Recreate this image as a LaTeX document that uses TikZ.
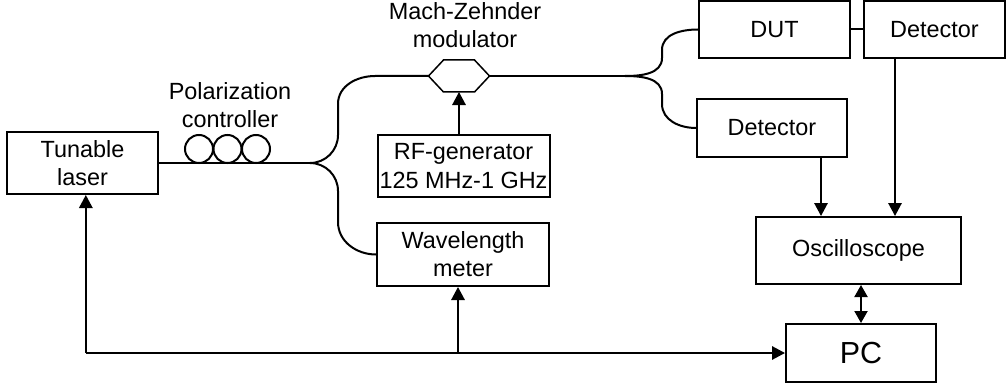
\documentclass[tikz,border=0pt]{standalone}
\usepackage{fontspec}
\setmainfont{Liberation Sans}
\usetikzlibrary{arrows.meta,positioning,calc}

\begin{document}
\begin{tikzpicture}[
    x=0.3mm, y=-0.3mm,
    font=\fontsize{20}{24}\selectfont,
    line width=0.6mm,
    box/.style={draw, rectangle, inner sep=0pt, align=center, line width=0.6mm},
    arr/.style={-{Triangle[length=3.9mm,width=4mm]}},
    darr/.style={{Triangle[length=3.6mm,width=3.9mm]}-{Triangle[length=3.6mm,width=3.9mm]}}
]
\useasboundingbox (0,0) rectangle (1006,390);

\node[box, minimum width=45.3mm, minimum height=18.6mm] (laser) at (82.5,163) {Tunable\\laser};
\node[box, minimum width=51.6mm, minimum height=18.6mm] (rf) at (463.5,166) {RF-generator\\125 MHz-1 GHz};
\node[box, minimum width=51.6mm, minimum height=18.9mm] (wlm) at (463,254.5) {Wavelength\\meter};
\node[box, minimum width=45.3mm, minimum height=17.1mm] (dut) at (774.5,29.5) {DUT};
\node[box, minimum width=42.3mm, minimum height=17.1mm] (detA) at (934.5,29.5) {Detector};
\node[box, minimum width=45mm, minimum height=17.4mm] (detB) at (772,128) {Detector};
\node[box, minimum width=61.5mm, minimum height=20.1mm] (osc) at (858.5,250.5) {Oscilloscope};
\node[box, minimum width=45mm, minimum height=17.4mm, font=\fontsize{26}{30}\selectfont] (pc) at (861,353) {PC};

\node[align=center] (pclabel) at (230,105.5) {Polarization\\controller};
\node[align=center] (mzlabel) at (465,25.5) {Mach-Zehnder\\modulator};

\coordinate (mz) at (459,76);
\draw[line width=0.45mm] (mz) ++(-30.5,0) coordinate (mzW) -- ++(15,-16) -- ++(31,0) -- ++(15,16) coordinate (mzE)
  -- ++(-15,16) -- ++(-31,0) -- cycle;
\coordinate (mzS) at (459,92);
\foreach \cx in {199,227.5,256}
  \draw (\cx,149) circle[radius=4.2mm];

\coordinate (sp1) at (310,163);
\coordinate (sp2) at (625,76);
\draw (laser.east) -- (sp1);
\draw (sp1) to[out=0,in=-90] (338,135) -- (338,104) to[out=90,in=180] (375,76) -- (mzW);
\draw (sp1) to[out=0,in=90] (338,191) -- (338,222) to[out=-90,in=180] (wlm.west);
\draw (mzE) -- (sp2);
\draw (sp2) to[out=0,in=-90] (662,58) -- (662,50) to[out=90,in=180] (dut.west);
\draw (sp2) to[out=0,in=90] (662,94) -- (662,104) to[out=-90,in=180] (detB.west);
\draw (dut.east) -- (detA.west);

\draw[arr] (mzS |- rf.north) -- (mzS);
\draw[arr] ([xshift=14.7mm]detB.south) -- ([xshift=14.7mm]detB.south |- osc.north);
\draw[arr] ([xshift=-11.85mm]detA.south) -- ([xshift=-11.85mm]detA.south |- osc.north);
\draw[darr] (pc.north) -- (pc.north |- osc.south);
\draw[arr] ([xshift=1mm]laser.south |- pc.west) -- (pc.west);
\draw[arr] ([xshift=1mm]laser.south |- pc.west) -- ([xshift=1mm]laser.south);
\draw[arr] ([xshift=-1.5mm]wlm.south |- pc.west) -- ([xshift=-1.5mm]wlm.south);
\end{tikzpicture}
\end{document}
